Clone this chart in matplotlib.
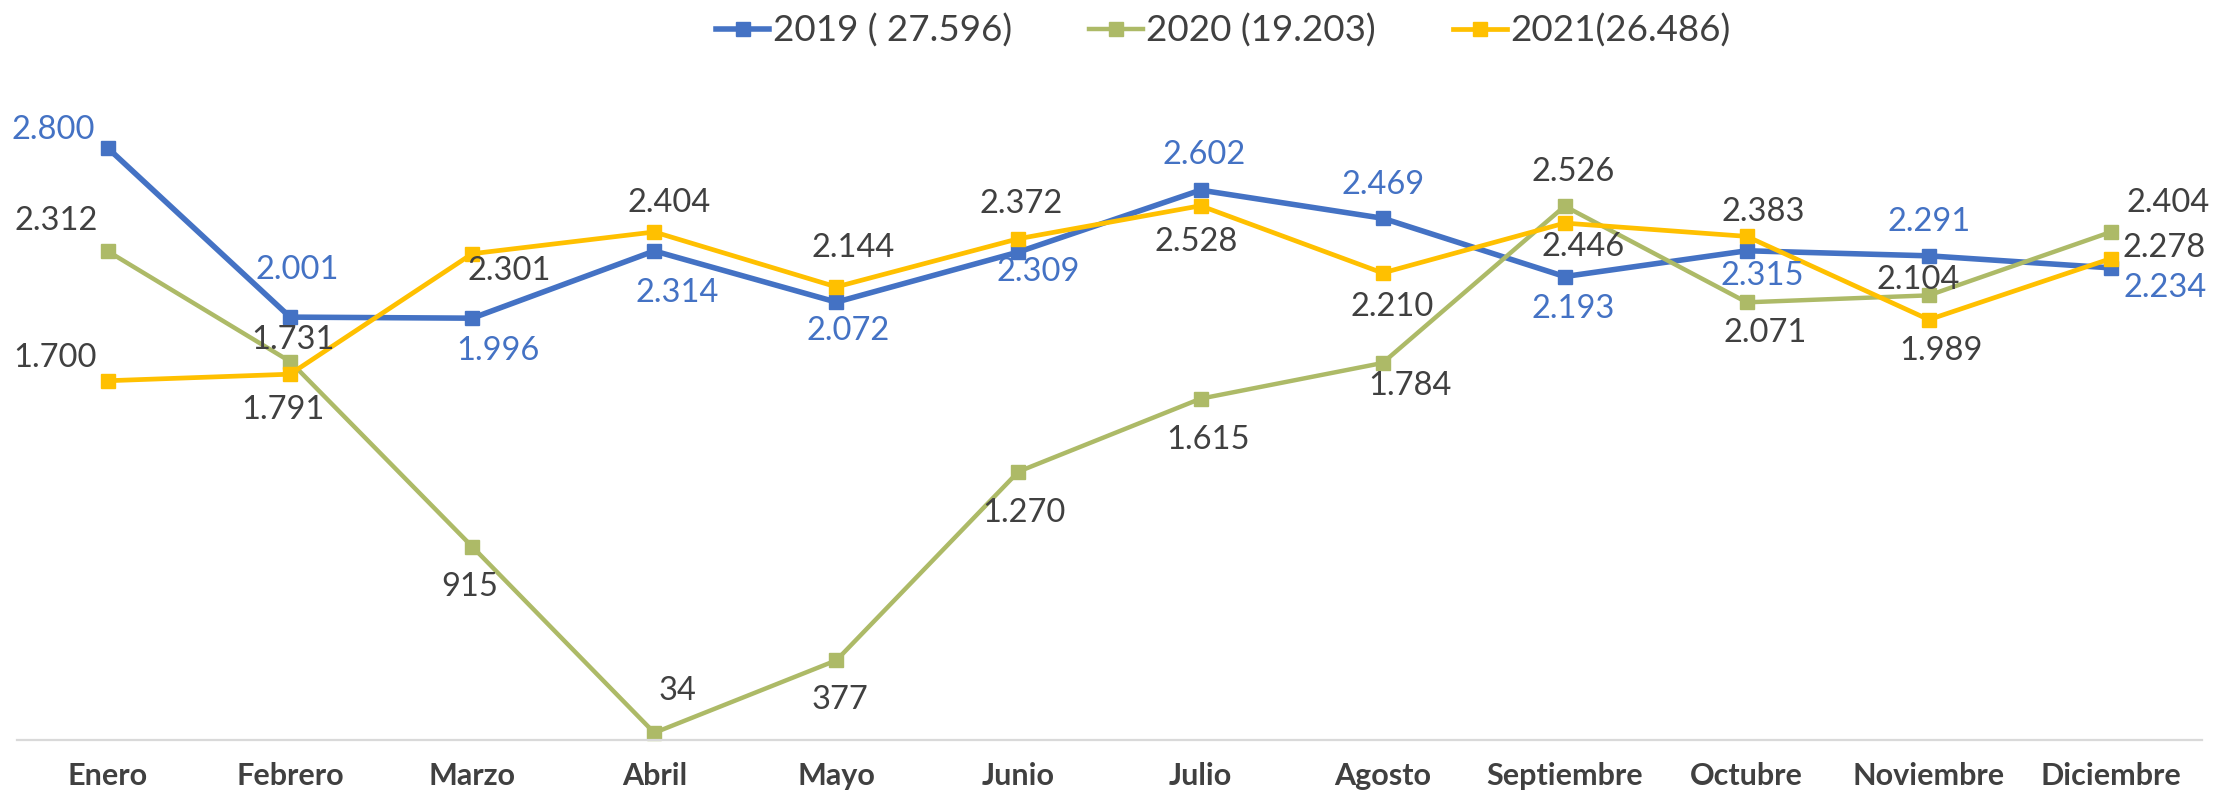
import matplotlib.pyplot as plt

plt.rcParams['font.family'] = ['Lato', 'DejaVu Sans']

meses = ['Enero', 'Febrero', 'Marzo', 'Abril', 'Mayo', 'Junio', 'Julio',
         'Agosto', 'Septiembre', 'Octubre', 'Noviembre', 'Diciembre']
v2019 = [2800, 2001, 1996, 2314, 2072, 2309, 2602, 2469, 2193, 2315, 2291, 2234]
v2020 = [2312, 1791, 915, 34, 377, 1270, 1615, 1784, 2526, 2071, 2104, 2404]
v2021 = [1700, 1731, 2301, 2404, 2144, 2372, 2528, 2210, 2446, 2383, 1989, 2278]
nombres = ['2019 ( 27.596)', '2020 (19.203)', '2021(26.486)']

# label offsets in pixels (dx, dy) relative to each point
off2019 = [(-55, 18), (7, 47), (26, -33), (23, -42), (12, -29), (20, -20),
           (4, 35), (0, 33), (8, -32), (15, -25), (0, 34), (54, -20)]
off2020 = [(-52, 30), (-7, -48), (-3, -40), (23, 42), (4, -40), (6, -41),
           (7, -41), (27, -23), (8, 34), (18, -31), (-11, 15), (57, 29)]
off2021 = [(-53, 23), (3, 34), (37, -17), (15, 29), (17, 39), (3, 35),
           (-4, -36), (10, -34), (18, -24), (16, 24), (12, -31), (53, 11)]

azul = '#4472C4'
oliva = '#ADBA67'
amarillo = '#FFC000'
gris = '#404040'

fig = plt.figure(figsize=(22.16, 7.91), dpi=100)
ax = fig.add_axes([17/2216, 1 - 740/791, 2185/2216, 634/791])

x = range(len(meses))
series = [(v2019, off2019, azul, 4.0, azul),
          (v2020, off2020, oliva, 3.2, gris),
          (v2021, off2021, amarillo, 3.4, gris)]

for (vals, offs, col, lw, tcol), nombre in zip(series, nombres):
    ax.plot(x, vals, '-s', color=col, lw=lw, ms=9.5, label=nombre, clip_on=False)
    for i, v in enumerate(vals):
        txt = f'{v:,}'.replace(',', '.')
        ax.annotate(txt, (i, v), xytext=offs[i], textcoords='offset pixels',
                    ha='center', va='center', fontsize=23.5, color=tcol)

ax.set_xlim(-0.5, len(meses) - 0.5)
ax.set_ylim(0, 3000)
ax.set_xticks(list(x))
ax.set_xticklabels(meses, fontsize=22, fontweight='bold', color=gris)
ax.tick_params(axis='x', length=0, pad=16)
ax.set_yticks([])
for s in ['top', 'right', 'left']:
    ax.spines[s].set_visible(False)
ax.spines['bottom'].set_color('#D9D9D9')
ax.spines['bottom'].set_linewidth(1.6)

fig.legend(loc='center', bbox_to_anchor=(0.552, 0.961), ncol=3, frameon=False,
           fontsize=26.5, handlelength=1.45, handletextpad=0.1, columnspacing=2.1,
           labelcolor=gris)

fig.savefig('out.png', dpi=100)
